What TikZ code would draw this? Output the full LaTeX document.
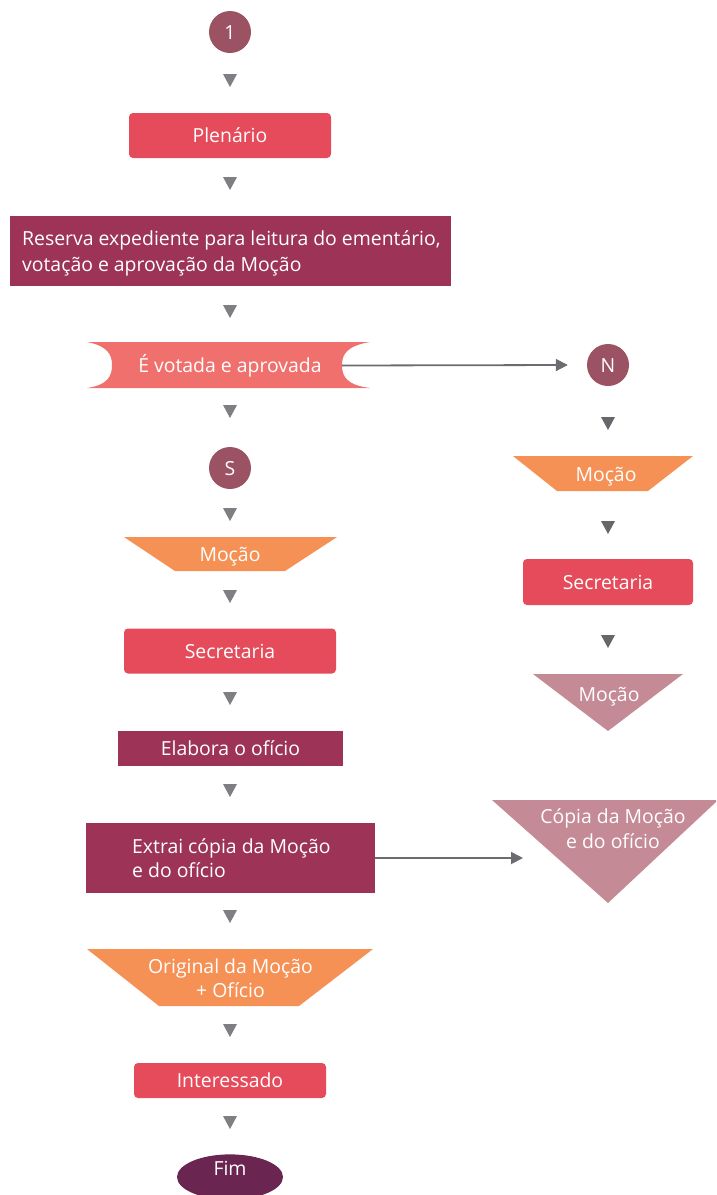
\documentclass[tikz,border=0pt]{standalone}
\usepackage{fontspec}
\setmainfont{Open Sans}
\usetikzlibrary{arrows.meta,shapes.geometric}
\definecolor{circ}{HTML}{9B5262}
\definecolor{cred}{HTML}{E54B5A}
\definecolor{plum}{HTML}{9D3457}
\definecolor{salmon}{HTML}{F0706E}
\definecolor{orng}{HTML}{F59155}
\definecolor{mauve}{HTML}{C48A96}
\definecolor{fimc}{HTML}{6A2550}
\definecolor{mkl}{HTML}{7E7E83}
\definecolor{mkr}{HTML}{66666B}
\definecolor{lineg}{HTML}{6B6B70}
\newcommand\mkmarker[3]{\fill[#3] (#1,#2) ++(-7,-6) -- ++(14,0) -- ++(-7,13) -- cycle;}
\begin{document}
\begin{tikzpicture}[x=1pt,y=-1pt,
  txt/.style={text=white,font=\fontsize{19.4}{25}\selectfont,inner sep=0pt,text height=14pt,text depth=0pt},
  bl/.style={text=white,font=\fontsize{19.4}{25}\selectfont,inner sep=0pt,anchor=base},
  blw/.style={bl,anchor=base west},
  circnode/.style={circle,fill=circ,minimum size=42pt,inner sep=0pt,txt},
  redbox/.style={rectangle,rounded corners=4pt,fill=cred,txt},
  plumbox/.style={rectangle,fill=plum,txt},
  conn/.style={draw=lineg,line width=1.8pt,-{Triangle[length=12pt,width=12pt]}}
]
\useasboundingbox (0,0) rectangle (716,1195);

% left column
\node[circnode] (c1) at (230,32) {1};
\mkmarker{230}{80}{mkl}
\node[redbox,minimum width=202pt,minimum height=45pt] (plen) at (230,135.5) {Plenário};
\mkmarker{230}{183}{mkl}
\node[plumbox,minimum width=441pt,minimum height=70pt] (res) at (230.5,251) {};
\node[blw] (res1) at (22,245) {Reserva expediente para leitura do ementário,};
\node[blw] (res2) at (22,271) {votação e aprovação da Moção};
\mkmarker{230}{311}{mkl}
\fill[salmon] (87,342) -- (370,342) .. controls (346,346) and (342,355) .. (342,365)
  .. controls (342,376) and (346,385) .. (370,388) -- (87,388)
  .. controls (108,385) and (112,376) .. (112,365)
  .. controls (112,355) and (108,346) .. (87,342) -- cycle;
\node[txt] (vot) at (230,365.5) {É votada e aprovada};
\coordinate (votR) at (342,365.5);
\mkmarker{230}{411}{mkl}
\node[circnode] (s) at (230,468) {S};
\mkmarker{230}{514}{mkl}
\fill[orng] (124,537) -- (337,537) -- (285,571) -- (175,571) -- cycle;
\node[txt] (mocS) at (230,554.5) {Moção};
\mkmarker{230}{596}{mkl}
\node[redbox,minimum width=212pt,minimum height=45pt] (secS) at (230,651) {Secretaria};
\mkmarker{230}{698}{mkl}
\node[plumbox,minimum width=225pt,minimum height=35pt] (elab) at (230.5,748.5) {Elabora o ofício};
\mkmarker{230}{790}{mkl}
\node[plumbox,minimum width=289pt,minimum height=70pt] (ext) at (230.5,858) {};
\node[blw] (ext1) at (132,853) {Extrai cópia da Moção};
\node[blw] (ext2) at (132,877) {e do ofício};
\mkmarker{230}{916}{mkl}
\fill[orng] (87,949) -- (373,949) -- (299,1006) -- (159,1006) -- cycle;
\node[bl] (orig1) at (230.5,973) {Original da Moção};
\node[bl] (orig2) at (230.5,997) {+ Ofício};
\mkmarker{230}{1030}{mkl}
\node[redbox,minimum width=192pt,minimum height=35pt] (int) at (230,1080.5) {Interessado};
\mkmarker{230}{1122}{mkl}
\node[ellipse,fill=fimc,minimum width=106pt,minimum height=40pt,txt,text depth=18pt] (fim) at (230,1177) {Fim};

% right column
\node[circnode] (n) at (608,365) {N};
\mkmarker{608}{423}{mkr}
\fill[orng] (513,456) -- (693,456) -- (648,491) -- (557,491) -- cycle;
\node[txt] (mocN) at (606,474) {Moção};
\mkmarker{608}{527}{mkr}
\node[redbox,minimum width=170pt,minimum height=46pt] (secN) at (608,582) {Secretaria};
\mkmarker{608}{641}{mkr}
\fill[mauve] (533,674) -- (683,674) -- (608,731) -- cycle;
\node[txt] (mocT) at (609,694) {Moção};
\fill[mauve] (492,800) -- (716,800) -- (716,802) -- (608,903) -- cycle;
\node[bl] (cop1) at (613,823) {Cópia da Moção};
\node[bl] (cop2) at (613,848) {e do ofício};
\coordinate (copiaL) at (523,858);

% connectors
\draw[conn] (votR) -- ([xshift=-19pt]n.west);
\draw[conn] (ext.east |- copiaL) -- (copiaL);
\end{tikzpicture}
\end{document}
